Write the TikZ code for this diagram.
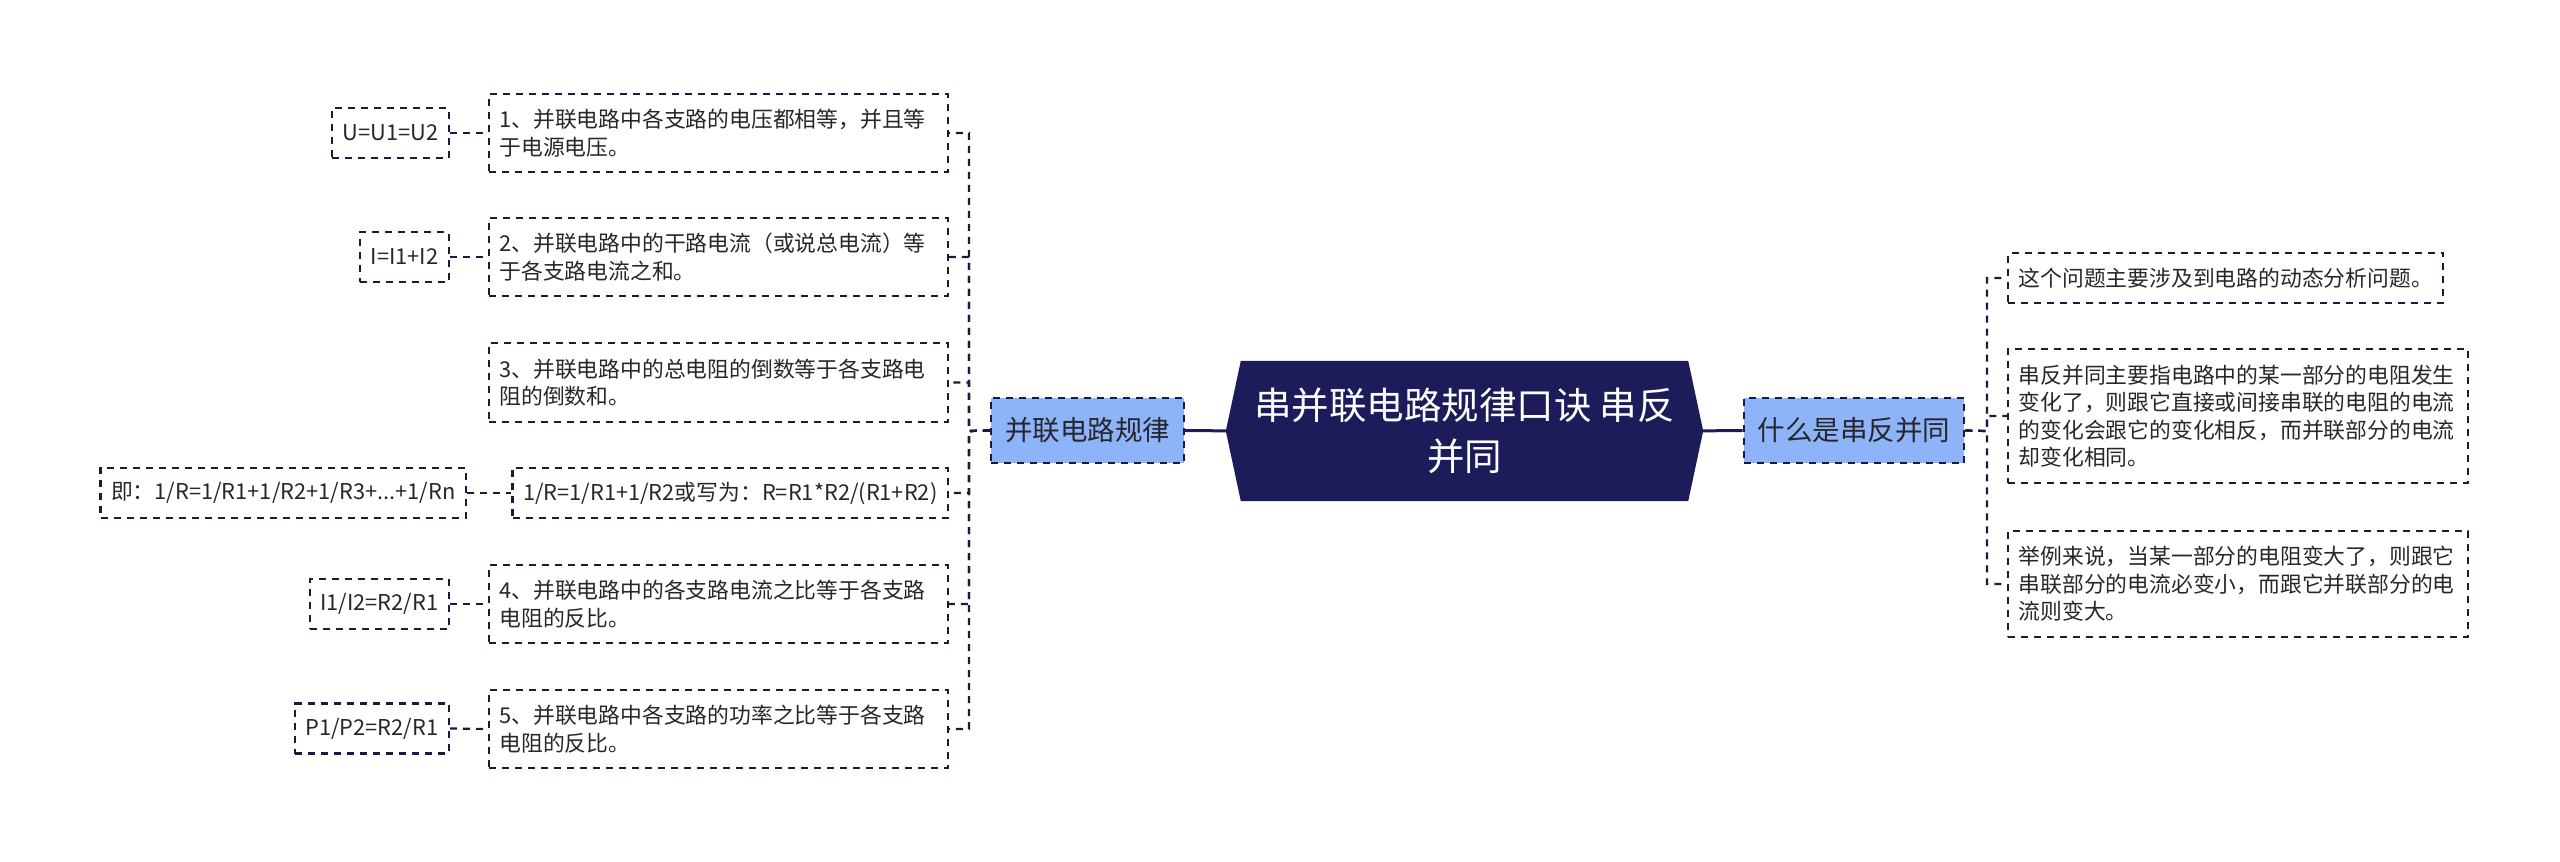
\documentclass[tikz,border=0pt]{standalone}
\usepackage{fontspec}
\setmainfont{Noto Sans CJK SC}
\usetikzlibrary{backgrounds}
\definecolor{navy}{RGB}{29,28,90}
\definecolor{inkline}{RGB}{26,26,62}
\definecolor{paleblue}{RGB}{141,180,249}
\definecolor{inkgray}{RGB}{38,38,44}

\begin{document}
\begin{tikzpicture}[x=1pt, y=-1pt,
    rootbox/.style={minimum width=447pt, minimum height=140pt, inner sep=0pt, text=white,
        font=\fontsize{37.5}{51}\selectfont, align=center},
    branch/.style={draw=inkline, fill=paleblue, dash pattern=on 7pt off 6pt, line width=2.2pt,
        minimum height=65pt, inner xsep=14pt, text=inkgray, font=\fontsize{27.5}{33}\selectfont},
    leaf/.style={draw=inkline, dash pattern=on 7pt off 6pt, line width=2.2pt, text=inkgray,
        inner xsep=10.5pt, inner ysep=0pt, align=left, font=\fontsize{21.8}{27.5}\selectfont},
    wide/.style={leaf, text width=438pt},
    trunk/.style={draw=navy, line width=3pt},
    link/.style={draw=inkline, line width=2.2pt, dash pattern=on 7pt off 6pt}]
    \useasboundingbox (0,0) rectangle (2560,862);

    % Centre topic
    \node[rootbox] (root) at (1464.5,431) {串并联电路规律口诀 串反\\并同};
    \begin{scope}[on background layer]
        \fill[navy] ([xshift=-15pt]root.west) -- (root.north west) -- (root.north east)
            -- ([xshift=15pt]root.east) -- (root.south east) -- (root.south west) -- cycle;
    \end{scope}

    % Main branches
    \node[branch] (rules) at (1087.5,430.5) {并联电路规律};
    \node[branch] (what) at (1854,430.5) {什么是串反并同};
    \draw[trunk] (root.west) -- (rules.east);
    \draw[trunk] (root.east) -- (what.west);

    % Left side: the five rules
    \node[wide, anchor=east, minimum height=78pt] (rule1) at (949,133) {1、并联电路中各支路的电压都相等，并且等\\于电源电压。};
    \node[wide, anchor=east, minimum height=78pt] (rule2) at (949,257) {2、并联电路中的干路电流（或说总电流）等\\于各支路电流之和。};
    \node[wide, anchor=east, minimum height=79pt] (rule3) at (949,382.5) {3、并联电路中的总电阻的倒数等于各支路电\\阻的倒数和。};
    \node[leaf, anchor=east, minimum height=50pt] (rule3b) at (949,493) {1/R=1/R1+1/R2或写为：R=R1*R2/(R1+R2)};
    \node[wide, anchor=east, minimum height=78pt] (rule4) at (949,604) {4、并联电路中的各支路电流之比等于各支路\\电阻的反比。};
    \node[wide, anchor=east, minimum height=78pt] (rule5) at (949,729) {5、并联电路中各支路的功率之比等于各支路\\电阻的反比。};

    % Formulas
    \node[leaf, anchor=east, minimum height=50pt] (eqU) at (450,133) {U=U1=U2};
    \node[leaf, anchor=east, minimum height=50pt] (eqI) at (450,257) {I=I1+I2};
    \node[leaf, anchor=east, minimum height=50pt] (eqR) at (467,493) {即：1/R=1/R1+1/R2+1/R3+...+1/Rn};
    \node[leaf, anchor=east, minimum height=50pt] (eqI2) at (450,604) {I1/I2=R2/R1};
    \node[leaf, anchor=east, minimum height=50pt] (eqP) at (450,728.5) {P1/P2=R2/R1};

    \coordinate (ljoin) at (969,431);
    \foreach \n in {rule1,rule2,rule3,rule3b,rule4,rule5}
        \draw[link] (rules.west) -- (ljoin) |- (\n.east);
    \draw[link] (eqU.east) -- (rule1.west);
    \draw[link] (eqI.east) -- (rule2.west);
    \draw[link] (eqR.east) -- (rule3b.west);
    \draw[link] (eqI2.east) -- (rule4.west);
    \draw[link] (eqP.east) -- (rule5.west);

    % Right side
    \node[leaf, anchor=west, minimum height=50pt] (note1) at (2007,278) {这个问题主要涉及到电路的动态分析问题。};
    \node[wide, anchor=west, minimum height=134pt, text width=439pt] (note2) at (2007,416) {串反并同主要指电路中的某一部分的电阻发生\\变化了，则跟它直接或间接串联的电阻的电流\\的变化会跟它的变化相反，而并联部分的电流\\却变化相同。};
    \node[wide, anchor=west, minimum height=106pt, text width=439pt] (note3) at (2007,584) {举例来说，当某一部分的电阻变大了，则跟它\\串联部分的电流必变小，而跟它并联部分的电\\流则变大。};

    \coordinate (rjoin) at (1987,431);
    \foreach \n in {note1,note2,note3}
        \draw[link] (what.east) -- (rjoin) |- (\n.west);
\end{tikzpicture}
\end{document}
